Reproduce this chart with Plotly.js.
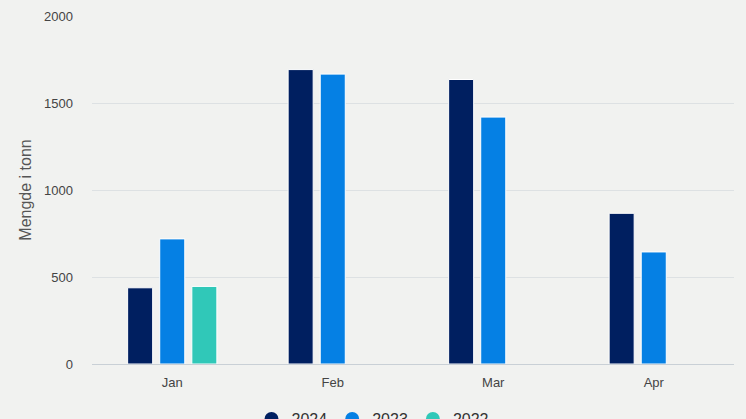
<!DOCTYPE html>
<html>
<head>
<meta charset="utf-8">
<script src="https://cdn.plot.ly/plotly-3.0.1.min.js"></script>
<style>
  html, body { margin: 0; padding: 0; background: #f1f2f0; }
  #chart { width: 746px; height: 419px; }
</style>
</head>
<body>
<div id="chart"></div>
<script>
var months = ['Jan', 'Feb', 'Mar', 'Apr'];
var seriesNames = ['2024', '2023', '2022'];
var values2024 = [438, 1692, 1635, 866];
var values2023 = [719, 1666, 1419, 644];
var values2022 = [446, null, null, null];
var colors = ['#001f60', '#0580e4', '#30c8b8'];
var yTicks = [0, 500, 1000, 1500, 2000];

var allValues = [values2024, values2023, values2022];

var data = [];
for (var i = 0; i < allValues.length; i++) {
  data.push({
    type: 'bar',
    x: months,
    y: allValues[i],
    name: seriesNames[i],
    showlegend: false,
    marker: { color: colors[i], line: { color: '#ffffff', width: 1 } },
    hoverinfo: 'x+y+name'
  });
}
// legend entries drawn as round dots
for (var j = 0; j < seriesNames.length; j++) {
  data.push({
    type: 'scatter',
    mode: 'markers',
    x: [null],
    y: [null],
    name: seriesNames[j],
    marker: { color: colors[j], symbol: 'circle', size: 14 }
  });
}

var layout = {
  width: 746,
  height: 419,
  paper_bgcolor: '#f1f2f0',
  plot_bgcolor: '#f1f2f0',
  font: { family: 'Liberation Sans, Arial, sans-serif', size: 13, color: '#444' },
  margin: { l: 92, r: 12, t: 16, b: 55, autoexpand: false },
  barmode: 'group',
  bargap: 0.4,
  bargroupgap: 0.22,
  xaxis: {
    type: 'category',
    showgrid: false,
    showline: true,
    linecolor: '#c9d0d6',
    linewidth: 1,
    ticks: '',
    ticklabelstandoff: 6,
    tickfont: { size: 13, color: '#444' }
  },
  yaxis: {
    range: [0, 2000],
    tickvals: yTicks,
    ticktext: yTicks.map(String),
    showgrid: true,
    gridcolor: '#dde1e3',
    zeroline: false,
    ticks: '',
    ticklabelstandoff: 18,
    tickfont: { size: 13, color: '#444' },
    title: { text: 'Mengde i tonn', font: { size: 16, color: '#555' }, standoff: 8 }
  },
  legend: {
    orientation: 'h',
    xref: 'container',
    yref: 'container',
    x: 0.5,
    xanchor: 'center',
    y: -0.01,
    yanchor: 'middle',
    font: { size: 16, color: '#333' },
    itemwidth: 30,
    bgcolor: 'rgba(0,0,0,0)'
  }
};

Plotly.newPlot('chart', data, layout, { displayModeBar: false, staticPlot: true });
</script>
</body>
</html>
